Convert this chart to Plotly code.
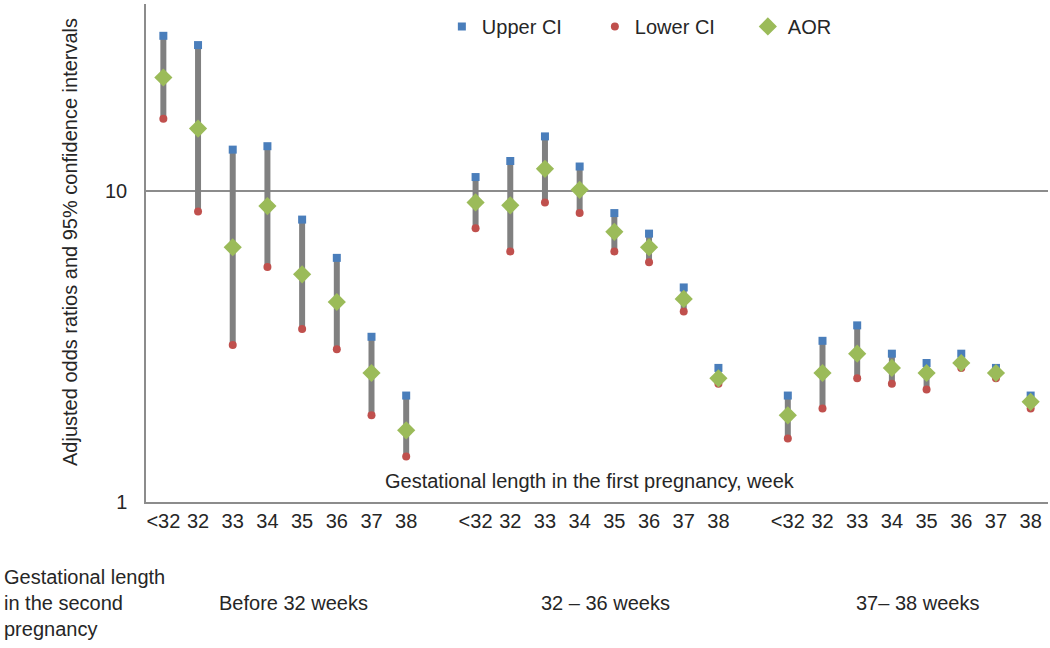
import plotly.graph_objects as go

# ---- data ----
first_preg_weeks = ["<32", "32", "33", "34", "35", "36", "37", "38"]
second_preg_groups = ["Before 32 weeks", "32 \u2013 36 weeks", "37\u2013 38 weeks"]

upper_before32 = [31.6, 29.5, 13.6, 13.95, 8.1, 6.1, 3.4, 2.2]
aor_before32 = [23.2, 15.9, 6.6, 8.95, 5.4, 4.4, 2.6, 1.7]
lower_before32 = [17.1, 8.6, 3.2, 5.7, 3.6, 3.1, 1.9, 1.4]

upper_32_36 = [11.1, 12.5, 15.0, 12.0, 8.5, 7.3, 4.9, 2.7]
aor_32_36 = [9.2, 9.0, 11.8, 10.1, 7.4, 6.6, 4.5, 2.5]
lower_32_36 = [7.6, 6.4, 9.2, 8.5, 6.4, 5.9, 4.1, 2.4]

upper_37_38 = [2.2, 3.3, 3.7, 3.0, 2.8, 3.0, 2.7, 2.2]
aor_37_38 = [1.9, 2.6, 3.0, 2.7, 2.6, 2.8, 2.6, 2.1]
lower_37_38 = [1.6, 2.0, 2.5, 2.4, 2.3, 2.7, 2.5, 2.0]

upper = [upper_before32, upper_32_36, upper_37_38]
aor = [aor_before32, aor_32_36, aor_37_38]
lower = [lower_before32, lower_32_36, lower_37_38]

n = len(first_preg_weeks)
step = n + 1  # one empty slot between groups

xs, up, lo, ao, ticktext = [], [], [], [], []
for g in range(len(second_preg_groups)):
    for i in range(n):
        xs.append(g * step + i)
        up.append(upper[g][i])
        lo.append(lower[g][i])
        ao.append(aor[g][i])
        ticktext.append(first_preg_weeks[i])

# high-low line segments
seg_x, seg_y = [], []
for x, u, l in zip(xs, up, lo):
    seg_x += [x, x, None]
    seg_y += [l, u, None]

font_family = "Liberation Sans, Arial, sans-serif"
txt_color = "#262626"
fs = 20

fig = go.Figure()
fig.add_trace(go.Scatter(x=seg_x, y=seg_y, mode="lines",
                         line=dict(color="#808080", width=6),
                         showlegend=False, hoverinfo="skip"))
fig.add_trace(go.Scatter(x=xs, y=up, mode="markers", name="Upper CI",
                         marker=dict(symbol="square", size=8, color="#4A7EBB")))
fig.add_trace(go.Scatter(x=xs, y=lo, mode="markers", name="Lower CI",
                         marker=dict(symbol="circle", size=8, color="#C0504D")))
fig.add_trace(go.Scatter(x=xs, y=ao, mode="markers", name="AOR",
                         marker=dict(symbol="diamond", size=14, color="#9BBB59")))

fig.update_layout(
    width=1050, height=648,
    margin=dict(l=146, r=2, t=4, b=146),
    paper_bgcolor="white", plot_bgcolor="white",
    font=dict(family=font_family, size=fs, color=txt_color),
    legend=dict(orientation="h", x=0.328, y=0.955, xanchor="left", yanchor="middle",
                entrywidth=108, entrywidthmode="pixels", itemwidth=30,
                font=dict(size=fs, color=txt_color), bgcolor="rgba(0,0,0,0)"),
    xaxis=dict(range=[-0.5, xs[-1] + 0.5], tickmode="array", tickvals=xs,
               ticktext=ticktext, showgrid=False, zeroline=False,
               showline=True, linecolor="#8c8c8c", linewidth=1.5,
               ticks="", tickfont=dict(size=fs, color=txt_color)),
    yaxis=dict(type="log", range=[0, 1.602], tickmode="array",
               tickvals=[1, 10], ticktext=["1", "10"],
               showgrid=True, gridcolor="#8c8c8c", gridwidth=1.5,
               showline=True, linecolor="#8c8c8c", linewidth=1.5,
               ticks="", ticklabelstandoff=13, zeroline=False,
               tickfont=dict(size=fs, color=txt_color)),
)

# y-axis title
fig.add_annotation(text="Adjusted odds ratios and 95% confidence intervals",
                   xref="paper", yref="paper", x=(70 - 146) / 902, y=(502 - 242) / 498,
                   textangle=-90, showarrow=False, xanchor="center", yanchor="middle",
                   font=dict(size=fs, color=txt_color))

# x-axis title, placed inside the plot as in the reference
fig.add_annotation(text="Gestational length in the first pregnancy, week",
                   xref="paper", yref="paper", x=0.492, y=0.042,
                   showarrow=False, xanchor="center", yanchor="middle",
                   font=dict(size=fs, color=txt_color))

# second pregnancy group labels
fig.add_annotation(text="Gestational length<br>in the second<br>pregnancy",
                   xref="paper", yref="paper", x=-146 / 902 + 0.002, y=-0.125,
                   showarrow=False, xanchor="left", yanchor="top", align="left",
                   font=dict(size=fs, color=txt_color))
for g, label in enumerate(second_preg_groups):
    fig.add_annotation(text=label, xref="x", yref="paper",
                       x=g * step + (n - 1) / 2 + 0.25, y=-0.203,
                       showarrow=False, xanchor="center", yanchor="middle",
                       font=dict(size=fs, color=txt_color))

fig.write_html("out.html", config={"displayModeBar": False},
               post_script="document.body.style.margin='0px';")
